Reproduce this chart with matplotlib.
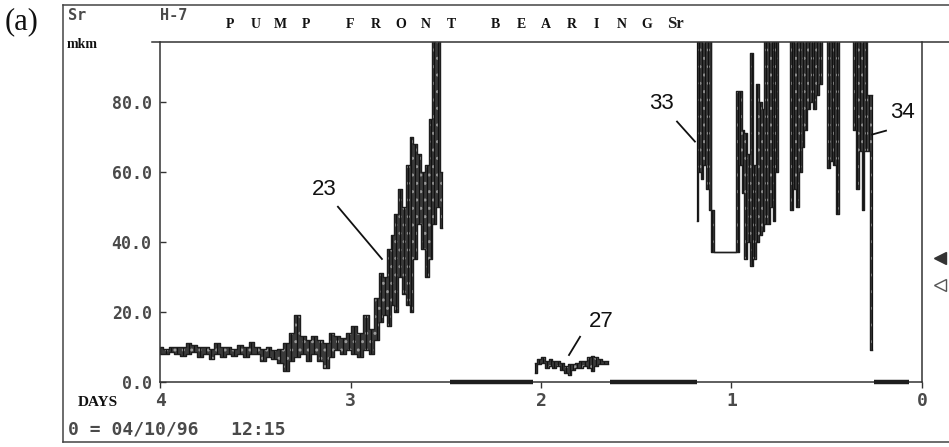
import matplotlib
matplotlib.use("Agg")
import matplotlib.pyplot as plt
from matplotlib.lines import Line2D

# ---------------- data (days before 04/10/96 12:15, vibration mkm) -------------
# Segment "23": slow rise then sharp growth (min / max of each reading)
days_a = [4.00, 3.97, 3.94, 3.91, 3.88, 3.85, 3.82, 3.79, 3.76, 3.73, 3.70, 3.67,
          3.64, 3.61, 3.58, 3.55, 3.52, 3.49, 3.46, 3.43, 3.40, 3.37, 3.34, 3.31,
          3.28, 3.25, 3.22, 3.19, 3.16, 3.13, 3.10, 3.07, 3.04, 3.01, 2.98, 2.95,
          2.92, 2.89, 2.86, 2.84, 2.82, 2.80, 2.78, 2.76, 2.74, 2.72, 2.70, 2.68,
          2.66, 2.64, 2.62, 2.60, 2.58, 2.56, 2.54, 2.52]
lo_a = [8.0, 8.0, 8.5, 8.0, 7.5, 8.0, 8.5, 7.0, 8.0, 6.5, 8.0, 7.0,
        8.0, 7.5, 8.0, 7.0, 8.0, 8.0, 6.0, 7.0, 6.5, 5.5, 3.0, 6.0,
        7.0, 8.0, 6.0, 8.0, 6.0, 4.0, 7.0, 9.0, 8.0, 9.0, 8.0, 7.0,
        9.0, 8.0, 12.0, 17.0, 19.0, 16.0, 22.0, 20.0, 30.0, 25.0, 22.0, 20.0,
        35.0, 45.0, 38.0, 30.0, 35.0, 45.0, 50.0, 44.0]
hi_a = [10.0, 9.5, 10.0, 10.0, 10.0, 11.0, 10.5, 10.0, 10.0, 9.5, 11.0, 10.0,
        10.0, 9.5, 10.5, 10.0, 11.5, 10.0, 9.5, 10.0, 9.0, 9.5, 11.0, 14.0,
        19.0, 13.0, 12.0, 13.0, 12.0, 11.0, 14.0, 13.0, 12.5, 14.0, 16.0, 14.0,
        19.0, 15.0, 24.0, 31.0, 30.0, 38.0, 42.0, 48.0, 55.0, 50.0, 62.0, 70.0,
        68.0, 65.0, 60.0, 62.0, 75.0, 100.0, 100.0, 60.0]

# Segment "27": short restart at low level
days_b = [2.03, 2.01, 1.99, 1.97, 1.95, 1.93, 1.91, 1.89, 1.87, 1.85,
          1.83, 1.81, 1.79, 1.77, 1.75, 1.73, 1.71, 1.69, 1.67, 1.65]
lo_b = [2.5, 5.0, 5.5, 4.0, 4.5, 4.0, 4.5, 3.5, 2.5, 2.0,
        3.5, 4.0, 4.0, 4.5, 4.0, 3.0, 4.5, 5.0, 5.0, 5.0]
hi_b = [5.5, 6.5, 7.0, 6.0, 6.5, 6.0, 6.0, 5.5, 4.5, 5.0,
        5.0, 5.5, 6.0, 6.0, 7.0, 7.5, 7.0, 6.5, 6.0, 6.0]

# Segments "33" / "34": high-level readings (100 = off scale)
days_c = [1.183, 1.17, 1.155, 1.14, 1.125, 1.11, 1.104, 1.08, 1.05, 1.02, 0.99,
          0.968, 0.955, 0.94, 0.925, 0.91, 0.895, 0.88, 0.865, 0.85, 0.835,
          0.82, 0.805, 0.79, 0.775, 0.765, 0.75, 0.72, 0.70, 0.684, 0.67,
          0.655, 0.64, 0.625, 0.61, 0.595, 0.58, 0.565, 0.55, 0.535, 0.52,
          0.505, 0.49, 0.475, 0.46, 0.445, 0.43, 0.40, 0.37, 0.352, 0.34,
          0.325, 0.31, 0.295, 0.28, 0.264]
lo_c = [46, 60, 58, 62, 55, 49, 37, 37, 37, 37, 37,
        37, 62, 54, 35, 40, 33, 35, 40, 42, 43,
        45, 45, 50, 46, 60, 110, 110, 110, 49, 55,
        50, 60, 67, 72, 78, 80, 78, 82, 85, 110,
        110, 61, 63, 62, 48, 110, 110, 110, 72, 55,
        66, 49, 66, 66, 9]
hi_c = [100, 100, 100, 100, 100, 100, 49, 37, 37, 37, 37,
        83, 83, 72, 71, 65, 94, 62, 85, 80, 78,
        100, 100, 100, 100, 100, 110, 110, 110, 100, 100,
        100, 100, 100, 100, 100, 100, 100, 100, 100, 110,
        110, 100, 100, 100, 100, 110, 110, 110, 100, 100,
        100, 100, 100, 82, 82]

# Machine stopped (zero readings along the axis)
zero_start = [2.48, 1.64, 0.25]
zero_end = [2.04, 1.18, 0.07]

# Alarm level markers on the right edge
alarm_levels = [35.4, 27.7]

y_ticks = [0, 20, 40, 60, 80]
y_labels = ["0.0", "20.0", "40.0", "60.0", "80.0"]
x_ticks = [4, 3, 2, 1, 0]
x_labels = ["4", "3", "2", "1", "0"]

callouts = ["23", "27", "33", "34"]
callout_text = [(3.139, 54.9), (1.685, 17.4), (1.365, 79.4), (0.100, 76.9)]
callout_from = [(3.066, 50.0), (1.795, 12.9), (1.286, 74.3), (0.189, 71.7)]
callout_to = [(2.835, 35.1), (1.853, 7.7), (1.192, 68.6), (0.262, 70.6)]

# ---------------- figure ----------------
W, H = 949, 447
fig = plt.figure(figsize=(W / 100, H / 100), dpi=100)
fig.patch.set_facecolor("white")

def fx(px):
    return px / W

def fy(py):
    return 1 - py / H

ax = fig.add_axes([fx(160), fy(382), fx(922) - fx(160), fy(42) - fy(382)])
ax.set_xlim(4, 0)
ax.set_ylim(0, 97)

ink = "#1e1e1e"
for d, lo, hi in [(days_a, lo_a, hi_a), (days_b, lo_b, hi_b), (days_c, lo_c, hi_c)]:
    ax.fill_between(d, lo, hi, step="mid", color="#3a3a3a", lw=0, hatch="..",
                    edgecolor="#9a9a9a")
    ax.vlines(d, lo, hi, color="#111111", lw=0.9)
    ax.step(d, lo, where="mid", color=ink, lw=1.0)
    ax.step(d, hi, where="mid", color=ink, lw=1.0)

for s, e in zip(zero_start, zero_end):
    ax.hlines(0, s, e, color=ink, lw=3.2, clip_on=False, zorder=5)

ax.plot([-0.095], [alarm_levels[0]], marker="<", ms=9, color="#333333",
        clip_on=False, ls="none")
ax.plot([-0.095], [alarm_levels[1]], marker="<", ms=9, mfc="white", mec="#555555",
        clip_on=False, ls="none")

mono = "DejaVu Sans Mono"
gray = "#4a4a4a"
ax.set_yticks(y_ticks)
ax.set_yticklabels(y_labels, family=mono, fontsize=12, color=gray, fontweight="bold")
ax.set_xticks(x_ticks)
ax.set_xticklabels(x_labels, family=mono, fontsize=13, color=gray, fontweight="bold")
ax.tick_params(axis="y", direction="in", length=4, width=1, color="#333333", pad=6)
ax.tick_params(axis="x", direction="out", length=4, width=1, color="#333333", pad=3)

for sp in ["left", "bottom", "right"]:
    ax.spines[sp].set_color("#333333")
    ax.spines[sp].set_linewidth(1.1)
ax.spines["top"].set_visible(False)

for (lbl, (tx, ty), (ax0, ay0), (ax1, ay1)) in zip(callouts, callout_text, callout_from, callout_to):
    ax.text(tx, ty, lbl, ha="center", va="center", fontsize=16,
            family="Liberation Sans", color="#111111")
    ax.plot([ax0, ax1], [ay0, ay1], color="#111111", lw=1.3)

# frame lines
fig.add_artist(Line2D([fx(152), 1], [fy(42), fy(42)], color="#333333", lw=1.1))
fig.add_artist(Line2D([fx(63), 1], [fy(5), fy(5)], color="#444444", lw=1.1))
fig.add_artist(Line2D([fx(63), 1], [fy(442), fy(442)], color="#444444", lw=1.1))
fig.add_artist(Line2D([fx(63), fx(63)], [fy(5), fy(442)], color="#444444", lw=1.1))

# header texts
fig.text(fx(5), fy(22), "(a)", fontsize=22, family="Liberation Serif",
         color="#111111", va="center", ha="left")
fig.text(fx(68), fy(15), "Sr", fontsize=11, family=mono, color=gray,
         fontweight="bold", va="center", ha="left")
fig.text(fx(160), fy(15), "H-7", fontsize=11, family=mono, color=gray,
         fontweight="bold", va="center", ha="left")
fig.text(fx(67), fy(45), "mkm", fontsize=10, family="Liberation Serif",
         fontweight="bold", color="#111111", va="center", ha="left")

title_words = ["PUMP", "FRONT", "BEARING"]
xpos = 230
for wi, word in enumerate(title_words):
    for ch in word:
        fig.text(fx(xpos), fy(25), ch, fontsize=10, family="Liberation Serif",
                 fontweight="bold", color="#111111", ha="center", va="center")
        xpos += 25.2
    xpos += 19.5
fig.text(fx(667), fy(24), "Sr", fontsize=12, family="Liberation Serif",
         fontweight="bold", color="#222222", ha="left", va="center")

fig.text(fx(78), fy(403), "DAYS", fontsize=11, family="Liberation Serif",
         fontweight="bold", color="#111111", ha="left", va="center")
fig.text(fx(68), fy(430), "0 = 04/10/96   12:15", fontsize=13, family=mono,
         fontweight="bold", color=gray, ha="left", va="center")

fig.savefig("out.png", dpi=100, facecolor="white")
